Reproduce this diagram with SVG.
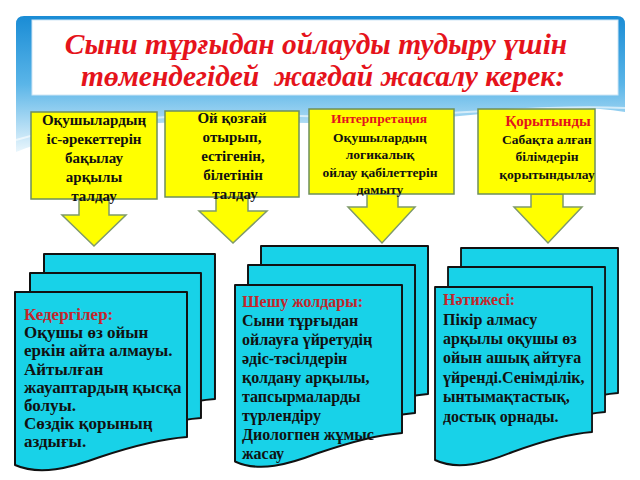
<svg xmlns="http://www.w3.org/2000/svg" width="640" height="480" viewBox="0 0 640 480">
<style>
.title{font-family:"Liberation Serif","Times New Roman",serif;font-weight:bold;font-style:italic;font-size:29.5px;fill:#e5131b;text-anchor:middle}
.bx{font-family:"Liberation Serif","Times New Roman",serif;font-weight:bold;font-size:15px;fill:#111;text-anchor:middle}
.bxs{font-size:13.5px}
.red{fill:#e3141c}
.st{font-family:"Liberation Serif","Times New Roman",serif;font-weight:bold;font-size:16px;fill:#111}
.s1{font-size:17px}
.hd{fill:#c3262c}
.ybox{fill:#ffff00;stroke:#6e8f5c;stroke-width:1.5}
.arrow{fill:#ffff00;stroke:#7f9a6a;stroke-width:1.5;stroke-linejoin:miter}
.page{fill:#18d2e8;stroke:#111;stroke-width:2;stroke-linejoin:round}
</style>
<defs>
<linearGradient id="sky" x1="0" y1="0" x2="0" y2="1">
<stop offset="0" stop-color="#1a8cd5"/>
<stop offset="0.5" stop-color="#5ab5e8"/>
<stop offset="1" stop-color="#eaf6fc"/>
</linearGradient>
<path id="pg" d="M0,0 H172 V145 C145,147 115,155 85,165 C55,176 25,184 0,173 Z"/>
</defs>
<rect width="640" height="480" fill="#ffffff"/>
<g id="background">
<path d="M16,24 Q16,16 24,16 H617 Q625,16 625,24 V112 C560,100 470,118 380,122 C280,126 200,116 130,126 C80,134 40,142 16,152 Z" fill="url(#sky)"/>
<path d="M16,140 C90,118 200,112 300,116 C420,120 520,104 625,108" fill="none" stroke="#ffffff" stroke-opacity="0.6" stroke-width="2"/>
<rect x="32" y="20" width="586" height="75" fill="#ffffff" stroke="#cfe6f5" stroke-width="1"/>
</g>
<g id="title">
<text class="title" x="316" y="54">Сыни тұрғыдан ойлауды тудыру үшін</text>
<text class="title" x="323" y="86" xml:space="preserve">төмендегідей  жағдай жасалу керек:</text>
</g>
<g id="connectors">
<polygon class="arrow" points="79,199 109,199 109,215 126,215 94,246 62,215 79,215"/>
<polygon class="arrow" points="216,197 248,197 248,211 267,211 233,243 199,211 216,211"/>
<polygon class="arrow" points="367,194 398,194 398,207 415,207 382,243 348,207 367,207"/>
<polygon class="arrow" points="531,194 563,194 563,207 582,207 548,243 514,207 531,207"/>
</g>
<g id="box1">
<rect class="ybox" x="31" y="112" width="126" height="87"/>
<text class="bx" x="94" y="125">Оқушылардың</text>
<text class="bx" x="94" y="144">іс-әрекеттерін</text>
<text class="bx" x="94" y="163">бақылау</text>
<text class="bx" x="94" y="182">арқылы</text>
<text class="bx" x="94" y="201">талдау</text>
</g>
<g id="box2">
<rect class="ybox" x="165" y="111" width="134" height="86"/>
<text class="bx" x="232" y="123">Ой қозғай</text>
<text class="bx" x="232" y="142">отырып,</text>
<text class="bx" x="233" y="161">естігенін,</text>
<text class="bx" x="233" y="180">білетінін</text>
<text class="bx" x="235" y="199">талдау</text>
</g>
<g id="box3">
<rect class="ybox" x="309" y="109" width="145" height="85"/>
<text class="bx bxs red" x="379" y="123">Интерпретация</text>
<text class="bx bxs" x="380" y="142">Оқушылардың</text>
<text class="bx bxs" x="380" y="159">логикалық</text>
<text class="bx bxs" x="380" y="177">ойлау қабілеттерін</text>
<text class="bx bxs" x="380" y="194">дамыту</text>
</g>
<g id="box4">
<rect class="ybox" x="478" y="109" width="117" height="85"/>
<text class="bx red" x="548" y="126">Қорытынды</text>
<text class="bx bxs" x="547" y="144">Сабақта алған</text>
<text class="bx bxs" x="547" y="161">білімдерін</text>
<text class="bx bxs" x="547" y="179">қорытындылау</text>
</g>
<g id="stack1">
<use href="#pg" class="page" transform="translate(44,254) scale(0.994,1)"/>
<use href="#pg" class="page" transform="translate(30,273) scale(0.994,1)"/>
<use href="#pg" class="page" transform="translate(15,292)"/>
<text class="st s1 hd" x="24" y="320">Кедергілер:</text>
<text class="st s1" x="24" y="338">Оқушы өз ойын</text>
<text class="st s1" x="24" y="356">еркін айта алмауы.</text>
<text class="st s1" x="24" y="375">Айтылған</text>
<text class="st s1" x="24" y="393">жауаптардың қысқа</text>
<text class="st s1" x="24" y="411">болуы.</text>
<text class="st s1" x="24" y="429">Сөздік қорының</text>
<text class="st s1" x="24" y="447">аздығы.</text>
</g>
<g id="stack2">
<use href="#pg" class="page" transform="translate(261,246) scale(0.971,1.02)"/>
<use href="#pg" class="page" transform="translate(248,265) scale(0.971,1.02)"/>
<use href="#pg" class="page" transform="translate(235,285) scale(0.971,1.02)"/>
<text class="st hd" x="242" y="307">Шешу жолдары:</text>
<text class="st" x="242" y="326">Сыни тұрғыдан</text>
<text class="st" x="242" y="345">ойлауға үйретудің</text>
<text class="st" x="242" y="364">әдіс-тәсілдерін</text>
<text class="st" x="242" y="383">қолдану арқылы,</text>
<text class="st" x="242" y="402">тапсырмаларды</text>
<text class="st" x="242" y="421">түрлендіру</text>
<text class="st" x="242" y="440">Диологпен жұмыс</text>
<text class="st" x="242" y="459">жасау</text>
</g>
<g id="stack3">
<use href="#pg" class="page" transform="translate(461,248) scale(0.913,1)"/>
<use href="#pg" class="page" transform="translate(448,267) scale(0.913,1)"/>
<use href="#pg" class="page" transform="translate(435,287) scale(0.913,1)"/>
<text class="st hd" x="443" y="305">Нәтижесі:</text>
<text class="st" x="443" y="325">Пікір алмасу</text>
<text class="st" x="443" y="344">арқылы оқушы өз</text>
<text class="st" x="443" y="363">ойын ашық айтуға</text>
<text class="st" x="443" y="383">үйренді.Сенімділік,</text>
<text class="st" x="443" y="402">ынтымақтастық,</text>
<text class="st" x="443" y="422">достық орнады.</text>
</g>
</svg>
